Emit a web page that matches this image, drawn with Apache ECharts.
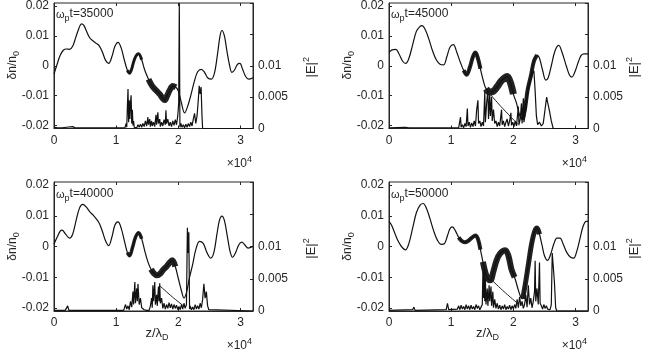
<!DOCTYPE html>
<html><head><meta charset="utf-8">
<script src="https://cdn.jsdelivr.net/npm/echarts@6/dist/echarts.min.js"></script>
<style>html,body{margin:0;padding:0;background:#fff}#c{width:648px;height:352px}</style>
</head><body><div id="c"></div>
<script>
// ---------- data (x in units of 10^4 λ_D) ----------
const panelTimes = ['35000', '45000', '40000', '50000'];
const xTicks = [0, 1, 2, 3];
const leftTicks = [-0.02, -0.01, 0, 0.01, 0.02];
const rightTickLabels = [0, 0.005, 0.01];

// δn/n0 (left axis)
const dens35 = [[0,-0.0028],[0.05,0.0005],[0.10,0.0035],[0.15,0.0052],[0.20,0.0056],[0.25,0.0055],[0.30,0.0065],[0.35,0.0095],[0.40,0.0125],[0.44,0.0140],[0.48,0.0135],[0.53,0.0112],[0.58,0.0092],[0.63,0.0083],[0.68,0.0075],[0.73,0.0066],[0.78,0.0045],[0.83,0.0018],[0.88,0.0008],[0.93,0.0030],[0.98,0.0065],[1.03,0.0078],[1.08,0.0060],[1.13,0.0020],[1.18,-0.0015],[1.215,-0.0025],[1.25,-0.0010],[1.30,0.0025],[1.36,0.0040],[1.41,0.0020],[1.46,-0.0015],[1.52,-0.0045],[1.58,-0.0068],[1.64,-0.0082],[1.70,-0.0095],[1.75,-0.0110],[1.78,-0.0115],[1.82,-0.0100],[1.86,-0.0082],[1.91,-0.0068],[1.96,-0.0072],[2.00,-0.0085],[2.045,-0.0121],[2.10,-0.0158],[2.15,-0.0135],[2.20,-0.0099],[2.26,-0.0050],[2.31,-0.0020],[2.37,-0.0012],[2.42,-0.0022],[2.47,-0.0040],[2.53,-0.0045],[2.58,-0.0025],[2.63,0.0040],[2.67,0.0100],[2.70,0.0118],[2.74,0.0100],[2.78,0.0050],[2.82,0.0005],[2.86,-0.0022],[2.90,-0.0015],[2.95,0.0005],[2.99,0.0008],[3.03,-0.0010],[3.08,-0.0035],[3.13,-0.0045],[3.20,-0.0040]];
const dens45 = [[0,0.0045],[0.05,0.0053],[0.11,0.0055],[0.16,0.0040],[0.22,0.0015],[0.27,0.0008],[0.32,0.0025],[0.38,0.0070],[0.44,0.0115],[0.50,0.0132],[0.53,0.0134],[0.58,0.0122],[0.64,0.0090],[0.70,0.0050],[0.76,0.0020],[0.82,0.0005],[0.88,0.0003],[0.93,0.0030],[0.98,0.0062],[1.035,0.0071],[1.09,0.0045],[1.15,0.0010],[1.20,-0.0015],[1.25,-0.0030],[1.30,-0.0005],[1.35,0.0030],[1.39,0.0044],[1.43,0.0025],[1.47,-0.0010],[1.51,-0.0045],[1.56,-0.0077],[1.62,-0.0088],[1.68,-0.0085],[1.74,-0.0070],[1.80,-0.0052],[1.86,-0.0040],[1.90,-0.0036],[1.95,-0.0055],[2.00,-0.0095],[2.05,-0.0125],[2.10,-0.0165],[2.15,-0.0180],[2.19,-0.0140],[2.23,-0.0080],[2.28,-0.0035],[2.33,0.0015],[2.38,0.0036],[2.42,0.0025],[2.47,-0.0015],[2.52,-0.0048],[2.56,-0.0040],[2.61,0.0000],[2.67,0.0050],[2.73,0.0068],[2.79,0.0040],[2.85,0.0000],[2.90,-0.0030],[2.94,-0.0038],[2.99,-0.0020],[3.04,0.0010],[3.09,0.0035],[3.14,0.0040],[3.20,0.0040]];
const dens40 = [[0,0.0008],[0.05,0.0030],[0.10,0.0050],[0.13,0.0053],[0.18,0.0042],[0.25,0.0027],[0.30,0.0040],[0.35,0.0080],[0.41,0.0125],[0.465,0.0137],[0.52,0.0128],[0.58,0.0112],[0.63,0.0102],[0.68,0.0090],[0.73,0.0075],[0.78,0.0048],[0.83,0.0018],[0.88,0.0003],[0.93,0.0030],[0.98,0.0070],[1.03,0.0080],[1.08,0.0060],[1.13,0.0020],[1.18,-0.0020],[1.215,-0.0030],[1.26,-0.0005],[1.31,0.0030],[1.36,0.0045],[1.41,0.0025],[1.46,-0.0015],[1.51,-0.0050],[1.56,-0.0074],[1.61,-0.0088],[1.66,-0.0094],[1.71,-0.0088],[1.76,-0.0075],[1.81,-0.0065],[1.86,-0.0052],[1.90,-0.0045],[1.95,-0.0065],[2.00,-0.0105],[2.05,-0.0145],[2.09,-0.0168],[2.13,-0.0150],[2.18,-0.0100],[2.23,-0.0058],[2.28,-0.0010],[2.34,0.0017],[2.40,0.0010],[2.46,-0.0020],[2.52,-0.0038],[2.57,-0.0020],[2.62,0.0040],[2.66,0.0085],[2.70,0.0099],[2.74,0.0085],[2.79,0.0030],[2.83,-0.0015],[2.87,-0.0035],[2.92,-0.0020],[2.97,0.0005],[3.02,0.0014],[3.07,0.0005],[3.12,-0.0005],[3.20,0.0000]];
const dens50 = [[0,0.0082],[0.04,0.0070],[0.09,0.0045],[0.14,0.0020],[0.20,0.0000],[0.265,-0.0011],[0.32,0.0010],[0.38,0.0060],[0.44,0.0110],[0.50,0.0135],[0.55,0.0140],[0.60,0.0125],[0.66,0.0090],[0.72,0.0050],[0.78,0.0020],[0.84,0.0007],[0.89,0.0009],[0.94,0.0035],[0.98,0.0058],[1.02,0.0064],[1.07,0.0050],[1.12,0.0030],[1.17,0.0018],[1.22,0.0014],[1.27,0.0018],[1.33,0.0028],[1.39,0.0036],[1.43,0.0025],[1.47,-0.0010],[1.51,-0.0050],[1.55,-0.0085],[1.59,-0.0105],[1.63,-0.0110],[1.68,-0.0080],[1.73,-0.0045],[1.79,-0.0022],[1.87,-0.0012],[1.92,-0.0030],[1.97,-0.0075],[2.02,-0.0100],[2.07,-0.0135],[2.11,-0.0160],[2.15,-0.0170],[2.19,-0.0125],[2.24,-0.0060],[2.29,0.0005],[2.34,0.0048],[2.38,0.0060],[2.42,0.0040],[2.46,0.0005],[2.50,-0.0030],[2.55,-0.0045],[2.60,-0.0025],[2.65,0.0008],[2.70,0.0027],[2.75,0.0027],[2.80,0.0008],[2.86,-0.0020],[2.92,-0.0035],[2.97,-0.0038],[3.02,-0.0015],[3.07,0.0025],[3.12,0.0065],[3.17,0.0082],[3.20,0.0082]];

// |E|^2 (right axis)
const e35 = [[0,0.0002],[0.03,0.0004],[0.06,0.0001],[0.09,0.0003],[0.13,0.0001],[0.2,0.0002],[0.3,0.0003],[0.34,0.0001],[0.6,0.0001],[1.14,0.0001],[1.16,0.0008],[1.17,0.0002],[1.18,0.0035],[1.19,0.0063],[1.20,0.0010],[1.21,0.0045],[1.22,0.0015],[1.23,0.0040],[1.24,0.0053],[1.25,0.0008],[1.26,0.0030],[1.27,0.0005],[1.28,0.0012],[1.29,0.0002],[1.31,0.0005],[1.33,0.0001],[1.35,0.0006],[1.37,0.0002],[1.39,0.0007],[1.41,0.0002],[1.43,0.0008],[1.45,0.0003],[1.47,0.0012],[1.49,0.0004],[1.51,0.0018],[1.52,0.0006],[1.54,0.0015],[1.55,0.0003],[1.57,0.0012],[1.58,0.0004],[1.60,0.0010],[1.62,0.0003],[1.64,0.0022],[1.65,0.0006],[1.67,0.0026],[1.68,0.0008],[1.70,0.0015],[1.71,0.0003],[1.73,0.0010],[1.75,0.0004],[1.77,0.0014],[1.79,0.0006],[1.80,0.0029],[1.81,0.0008],[1.83,0.0015],[1.85,0.0004],[1.87,0.0010],[1.89,0.0003],[1.91,0.0012],[1.93,0.0005],[1.95,0.0014],[1.97,0.0006],[1.99,0.0020],[2.005,0.0040],[2.015,0.0200],[2.025,0.0002],[2.04,0.0008],[2.06,0.0002],[2.08,0.0006],[2.10,0.0001],[2.12,0.0007],[2.14,0.0002],[2.16,0.0008],[2.18,0.0003],[2.20,0.0010],[2.22,0.0004],[2.24,0.0015],[2.26,0.0024],[2.28,0.0008],[2.30,0.0020],[2.32,0.0045],[2.335,0.0068],[2.35,0.0055],[2.365,0.0066],[2.38,0.0020],[2.39,0],[3.2,0]];
const e45 = [[0,0.0001],[0.26,0.0002],[0.29,0.0005],[0.32,0.0001],[0.6,0.0001],[1.12,0.0001],[1.13,0.0003],[1.15,0.0018],[1.16,0.0002],[1.18,0.0006],[1.20,0.0001],[1.22,0.0008],[1.24,0.0003],[1.26,0.0032],[1.27,0.0004],[1.29,0.0010],[1.31,0.0002],[1.33,0.0009],[1.35,0.0003],[1.37,0.0012],[1.39,0.0004],[1.41,0.0030],[1.43,0.0045],[1.44,0.0008],[1.46,0.0012],[1.48,0.0003],[1.50,0.0010],[1.52,0.0004],[1.54,0.0058],[1.55,0.0010],[1.57,0.0040],[1.59,0.0062],[1.60,0.0015],[1.62,0.0055],[1.63,0.0020],[1.65,0.0050],[1.66,0.0012],[1.68,0.0030],[1.70,0.0008],[1.72,0.0012],[1.74,0.0003],[1.76,0.0010],[1.78,0.0004],[1.81,0.0030],[1.82,0.0006],[1.84,0.0012],[1.86,0.0003],[1.88,0.0010],[1.90,0.0015],[1.92,0.0004],[1.94,0.0012],[1.96,0.0025],[1.97,0.0005],[1.99,0.0010],[2.01,0.0003],[2.03,0.0012],[2.05,0.0004],[2.08,0.0035],[2.09,0.0006],[2.11,0.0015],[2.13,0.0040],[2.14,0.0008],[2.16,0.0048],[2.17,0.0010],[2.20,0.0030],[2.22,0.0050],[2.25,0.0065],[2.28,0.0078],[2.31,0.0088],[2.33,0.0092],[2.35,0.0060],[2.37,0.0020],[2.39,0.0006],[2.42,0.0010],[2.45,0.0004],[2.48,0.0008],[2.51,0.0010],[2.535,0.0050],[2.55,0.0042],[2.58,0.0028],[2.61,0.0012],[2.64,0],[3.2,0]];
const e40 = [[0,0.0001],[0.18,0.0001],[0.20,0.0004],[0.22,0.0008],[0.24,0.0001],[0.6,0.0001],[1.12,0.0001],[1.13,0.0003],[1.15,0.0010],[1.16,0.0012],[1.17,0.0003],[1.19,0.0008],[1.21,0.0002],[1.23,0.0015],[1.25,0.0006],[1.27,0.0030],[1.28,0.0010],[1.30,0.0045],[1.31,0.0012],[1.33,0.0035],[1.34,0.0015],[1.35,0.0042],[1.36,0.0045],[1.37,0.0010],[1.39,0.0020],[1.41,0.0005],[1.43,0.0008],[1.45,0.0002],[1.47,0.0004],[1.49,0.0001],[1.51,0.0003],[1.53,0.0001],[1.55,0.0008],[1.57,0.0020],[1.58,0.0005],[1.59,0.0040],[1.60,0.0015],[1.62,0.0045],[1.63,0.0010],[1.65,0.0025],[1.66,0.0008],[1.68,0.0038],[1.69,0.0015],[1.70,0.0043],[1.71,0.0012],[1.73,0.0020],[1.75,0.0004],[1.77,0.0012],[1.79,0.0003],[1.81,0.0010],[1.83,0.0004],[1.85,0.0013],[1.87,0.0005],[1.89,0.0011],[1.91,0.0003],[1.93,0.0010],[1.95,0.0004],[1.97,0.0009],[1.99,0.0002],[2.01,0.0007],[2.03,0.0002],[2.05,0.0010],[2.07,0.0003],[2.09,0.0012],[2.11,0.0004],[2.13,0.0010],[2.145,0.0129],[2.158,0.0090],[2.168,0.0122],[2.18,0.0003],[2.19,0.0008],[2.21,0.0002],[2.23,0.0006],[2.25,0.0002],[2.27,0.0010],[2.29,0.0003],[2.31,0.0008],[2.33,0.0003],[2.35,0.0012],[2.37,0.0005],[2.39,0.0018],[2.41,0.0042],[2.42,0.0045],[2.43,0.0020],[2.45,0.0030],[2.47,0.0008],[2.49,0.0002],[2.50,0],[3.2,0]];
const e50 = [[0,0.0001],[0.38,0.0002],[0.40,0.0006],[0.42,0.0001],[0.92,0.0002],[0.94,0.0012],[0.96,0.0002],[1.10,0.0003],[1.12,0.0008],[1.14,0.0002],[1.16,0.0009],[1.18,0.0003],[1.20,0.0007],[1.22,0.0002],[1.24,0.0010],[1.26,0.0003],[1.28,0.0008],[1.30,0.0002],[1.32,0.0009],[1.34,0.0003],[1.36,0.0007],[1.38,0.0002],[1.40,0.0010],[1.42,0.0004],[1.44,0.0008],[1.46,0.0002],[1.48,0.0006],[1.50,0.0010],[1.51,0.0060],[1.52,0.0020],[1.53,0.0065],[1.54,0.0015],[1.55,0.0050],[1.56,0.0010],[1.58,0.0035],[1.59,0.0008],[1.61,0.0040],[1.62,0.0015],[1.64,0.0038],[1.65,0.0008],[1.67,0.0030],[1.68,0.0005],[1.70,0.0018],[1.72,0.0004],[1.74,0.0012],[1.76,0.0003],[1.78,0.0009],[1.80,0.0002],[1.82,0.0008],[1.84,0.0003],[1.86,0.0010],[1.88,0.0002],[1.90,0.0007],[1.92,0.0003],[1.94,0.0009],[1.96,0.0002],[1.98,0.0008],[2.00,0.0003],[2.02,0.0010],[2.04,0.0004],[2.06,0.0018],[2.08,0.0005],[2.10,0.0022],[2.12,0.0008],[2.14,0.0015],[2.16,0.0004],[2.18,0.0010],[2.20,0.0025],[2.22,0.0006],[2.24,0.0040],[2.26,0.0010],[2.28,0.0020],[2.30,0.0005],[2.32,0.0015],[2.34,0.0030],[2.35,0.0078],[2.36,0.0015],[2.38,0.0035],[2.40,0.0010],[2.42,0.0075],[2.43,0.0012],[2.45,0.0008],[2.47,0.0003],[2.49,0.0010],[2.51,0.0004],[2.53,0.0008],[2.55,0.0003],[2.57,0.0006],[2.59,0.0002],[2.61,0.0010],[2.625,0.0090],[2.645,0.0088],[2.66,0.0045],[2.68,0.0005],[2.70,0],[3.2,0]];
// secondary |E|^2 branch visible as a sloping line
const e35Branch = [];
const e45Branch = [[1.58,0.0060],[1.80,0.0035],[2.09,0.0005]];
const e40Branch = [[1.69,0.0040],[1.90,0.0022],[2.12,0.0005]];
const e50Branch = [[1.63,0.0050],[1.85,0.0030],[2.09,0.0010]];

// ---------- layout / style (not data) ----------
const densSets = [dens35, dens45, dens40, dens50];
const eSets = [e35, e45, e40, e50];
const branchSets = [e35Branch, e45Branch, e40Branch, e50Branch];
// noisy (thick) parts of the density trace: [from, to, width px]
const noisyParts = [
  [[1.15,1.45,3],[1.52,1.99,6]],
  [[1.18,1.47,4],[1.55,2.02,7],[2.15,2.40,4]],
  [[1.15,1.42,3.5],[1.55,1.97,6]],
  [[1.08,1.48,4],[1.50,2.05,6],[2.12,2.42,5]]
];
const grids = [
  {left:54, top:2, width:199, height:126.5},
  {left:389, top:2, width:199, height:126.5},
  {left:54, top:182, width:199, height:129},
  {left:389, top:182, width:199, height:129}
];
const FONT = '"Liberation Sans", Arial, sans-serif';
const AX = '#262626';

const option = {
  animation: false,
  backgroundColor: '#fff',
  grid: grids.map(g => Object.assign({show:true, borderColor:AX, borderWidth:1, backgroundColor:'transparent'}, g)),
  xAxis: [], yAxis: [], series: [], graphic: []
};

grids.forEach((g, i) => {
  option.xAxis.push({
    type:'value', gridIndex:i, min:0, max:3.2, position:'bottom',
    axisLine:{show:true, onZero:false, lineStyle:{color:AX}},
    axisTick:{show:true, inside:true, length:3, customValues:xTicks, lineStyle:{color:AX}},
    axisLabel:{show:true, customValues:xTicks, margin:6, color:AX, fontFamily:FONT, fontSize:12, formatter:v=>String(Math.round(v))},
    splitLine:{show:false}
  });
  option.xAxis.push({
    type:'value', gridIndex:i, min:0, max:3.2, position:'top',
    axisLine:{show:false, onZero:false}, axisLabel:{show:false}, splitLine:{show:false},
    axisTick:{show:true, inside:true, length:3, customValues:xTicks, lineStyle:{color:AX}}
  });
  option.yAxis.push({
    type:'value', gridIndex:i, min:-0.021, max:0.021, position:'left',
    axisLine:{show:true, onZero:false, lineStyle:{color:AX}},
    axisTick:{show:true, inside:true, length:3, customValues:leftTicks, lineStyle:{color:AX}},
    axisLabel:{show:true, customValues:leftTicks, margin:5, color:AX, fontFamily:FONT, fontSize:12,
      formatter:v=>Math.abs(v)<1e-9 ? '0' : String(+v.toFixed(3))},
    splitLine:{show:false}
  });
  option.yAxis.push({
    type:'value', gridIndex:i, min:0, max:0.02, position:'right',
    axisLine:{show:true, onZero:false, lineStyle:{color:AX}},
    axisTick:{show:true, inside:true, length:3, customValues:[0,0.005,0.01,0.015,0.02], lineStyle:{color:AX}},
    axisLabel:{show:true, customValues:rightTickLabels, margin:5, color:AX, fontFamily:FONT, fontSize:12,
      formatter:v=>Math.abs(v)<1e-9 ? '0' : String(+v.toFixed(3))},
    splitLine:{show:false}
  });
  const xi = 2*i, yl = 2*i, yr = 2*i+1;
  noisyParts[i].forEach(([a,b,w]) => {
    option.series.push({type:'line', xAxisIndex:xi, yAxisIndex:yl,
      data:densSets[i].filter(p => p[0] >= a && p[0] <= b), smooth:0.35,
      showSymbol:false, lineStyle:{color:'#222', width:w, cap:'butt', join:'round'}, z:2});
  });
  option.series.push({type:'line', xAxisIndex:xi, yAxisIndex:yl, data:densSets[i], smooth:0.35,
    showSymbol:false, lineStyle:{color:'#111', width:1.2}, z:3});
  option.series.push({type:'line', xAxisIndex:xi, yAxisIndex:yr, data:eSets[i],
    showSymbol:false, lineStyle:{color:'#111', width:1.2}, z:4});
  if (branchSets[i].length) option.series.push({type:'line', xAxisIndex:xi, yAxisIndex:yr, data:branchSets[i],
    showSymbol:false, smooth:0.2, lineStyle:{color:'#222', width:1}, z:4});

  const right = g.left + g.width, midY = g.top + g.height/2;
  option.graphic.push({type:'text', x:g.left+2, y:g.top+3, z:10, style:{
    text:'{w|ω}{p|p}{t|t=' + panelTimes[i] + '}',
    rich:{w:{fontFamily:FONT, fontSize:11, fill:AX, padding:[2,0,0,0]},
          p:{fontFamily:FONT, fontSize:9, fill:AX, padding:[9,0,0,0]},
          t:{fontFamily:FONT, fontSize:12, fill:AX}}}});
  option.graphic.push({type:'text', x:g.left-41, y:midY, rotation:Math.PI/2, z:10, style:{
    text:'{a|δn/n}{s|0}', align:'center', verticalAlign:'middle',
    rich:{a:{fontFamily:FONT, fontSize:12, fill:AX}, s:{fontFamily:FONT, fontSize:9, fill:AX, padding:[8,0,0,0]}}}});
  option.graphic.push({type:'text', x: (i%2===0 ? 311.5 : 634), y:midY+2, rotation:Math.PI/2, z:10, style:{
    text:'{a||E|}{s|2}', align:'center', verticalAlign:'middle',
    rich:{a:{fontFamily:FONT, fontSize:13, fill:AX}, s:{fontFamily:FONT, fontSize:9, fill:AX, padding:[0,0,9,0]}}}});
  option.graphic.push({type:'text', x:right-1, y:g.top+g.height+35, z:10, style:{
    text:'{a|×10}{s|4}', align:'right', verticalAlign:'middle',
    rich:{a:{fontFamily:FONT, fontSize:12, fill:AX}, s:{fontFamily:FONT, fontSize:9, fill:AX, padding:[0,0,8,0]}}}});
  if (i >= 2) {
    option.graphic.push({type:'text', x:(i===2 ? 157 : 487.5), y:333, z:10, style:{
      text:'{a|z/λ}{s|D}', align:'center', verticalAlign:'middle',
      rich:{a:{fontFamily:FONT, fontSize:13, fill:AX}, s:{fontFamily:FONT, fontSize:9, fill:AX, padding:[9,0,0,0]}}}});
  }
});

const chart = echarts.init(document.getElementById('c'), null, {renderer:'canvas'});
chart.setOption(option);
</script></body></html>
